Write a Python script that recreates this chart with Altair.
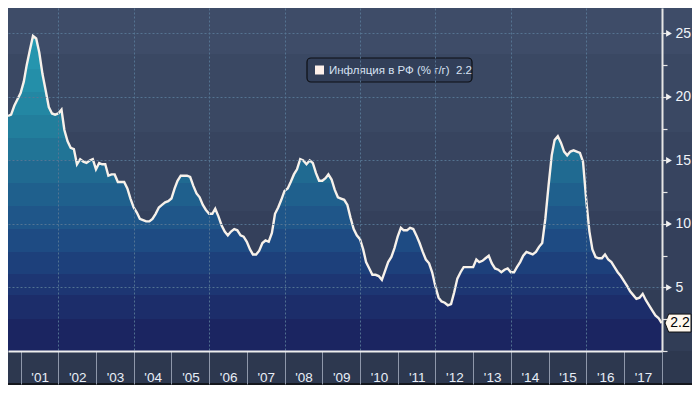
import altair as alt
import pandas as pd

# ---------------- data ----------------
series_name = "Инфляция в РФ (% г/г)"
first_month = "2000-09-01"
inflation = [
    18.5, 18.6, 19.3, 19.8,                                                    # Sep-Dec 2000
    20.3, 21.2, 22.5, 23.7, 24.8, 24.6, 23.5, 21.8, 20.5, 19.2, 18.7, 18.6,    # 2001
    18.7, 19.0, 17.4, 16.5, 16.0, 15.9, 14.7, 15.1, 14.9, 14.8, 15.0, 15.1,    # 2002
    14.3, 14.8, 14.7, 14.7, 13.8, 13.9, 13.9, 13.3, 13.3, 13.3, 12.8, 12.0,    # 2003
    11.3, 10.9, 10.4, 10.3, 10.2, 10.2, 10.4, 10.8, 11.3, 11.5, 11.7, 11.8,    # 2004
    12.0, 12.8, 13.4, 13.8, 13.8, 13.8, 13.7, 13.0, 12.4, 12.1, 11.5, 11.1,    # 2005
    10.8, 10.8, 11.2, 10.6, 9.9, 9.4, 9.1, 9.4, 9.6, 9.5, 9.1, 9.0,            # 2006
    8.6, 8.0, 7.6, 7.6, 7.9, 8.5, 8.7, 8.6, 9.3, 10.8, 11.3, 11.9,             # 2007
    12.6, 12.8, 13.3, 13.9, 14.3, 15.1, 15.0, 14.7, 15.0, 14.8, 14.0, 13.4,    # 2008
    13.4, 13.6, 13.9, 13.5, 12.7, 12.1, 12.0, 11.9, 11.5, 10.5, 9.6, 9.1,      # 2009
    8.8, 8.0, 7.0, 6.5, 6.0, 6.0, 5.9, 5.6, 6.3, 7.0, 7.4, 8.1,                # 2010
    9.0, 9.7, 9.5, 9.5, 9.7, 9.6, 9.1, 8.5, 7.8, 7.2, 6.9, 6.2,                # 2011
    5.1, 4.2, 3.9, 3.8, 3.6, 3.7, 4.6, 5.7, 6.2, 6.6, 6.6, 6.6,                # 2012
    6.6, 7.2, 7.0, 7.1, 7.3, 7.5, 6.9, 6.5, 6.4, 6.2, 6.4, 6.5,                # 2013
    6.2, 6.2, 6.6, 7.0, 7.5, 7.8, 7.7, 7.6, 7.8, 8.2, 8.5, 10.4,               # 2014
    13.0, 15.4, 16.6, 16.9, 16.4, 15.7, 15.4, 15.7, 15.8, 15.7, 15.6, 14.9,    # 2015
    11.9, 9.4, 8.0, 7.4, 7.3, 7.3, 7.6, 7.2, 7.0, 6.6, 6.2, 5.9,               # 2016
    5.5, 5.1, 4.7, 4.4, 4.1, 4.2, 4.5, 4.0, 3.6, 3.2, 2.8, 2.6,                # 2017
    2.2,                                                                       # Jan 2018
]
months = pd.date_range(first_month, periods=len(inflation), freq="MS").strftime("%Y-%m-%dT00:00:00").tolist()
year_ticks = list(range(2001, 2019))
y_ticks = [0, 2.5, 5, 7.5, 10, 12.5, 15, 17.5, 20, 22.5, 25]
major_ticks = [5, 10, 15, 20, 25]

# ---------------- style ----------------
W, H = 654, 343
PAD_R, PAD_B = 30, 34
YMAX = 27
FONT = "Liberation Sans"

area_edges = [0, 2.5, 4.4, 6.1, 7.8, 9.6, 11.4, 13.2, 15.0, 16.8, 18.6, 20.4, 22.2, 24.0, 27]
area_colors = ["#1b2561", "#1c2d6a", "#1d3673", "#1d407b", "#1e4b83", "#1f5689", "#1f608d",
               "#206a91", "#217496", "#227e9c", "#2387a3", "#248fa9", "#2595ae", "#269ab2"]
bg_edges = [0, 4.8, 11.0, 17.2, 23.4, 27]
bg_colors = ["#313d56", "#34405b", "#37445f", "#3a4863", "#3e4c68"]


def stepped(edges, colors, top):
    stops = []
    for i in reversed(range(len(colors))):
        lo, hi = edges[i], min(edges[i + 1], top)
        if lo >= top:
            continue
        stops.append(alt.GradientStop(color=colors[i], offset=(top - hi) / top))
        stops.append(alt.GradientStop(color=colors[i], offset=(top - lo) / top))
    return alt.LinearGradient(gradient="linear", stops=stops, x1=0, x2=0, y1=0, y2=1)


area_grad = stepped(area_edges, area_colors, max(inflation))
bg_grad = stepped(bg_edges, bg_colors, YMAX)

df = pd.DataFrame({"date": months, "value": inflation})

x_enc = alt.X(
    "date:T",
    title=None,
    scale=alt.Scale(domain=[alt.DateTime(year=2000, month=9, date=1),
                            alt.DateTime(year=2018, month=1, date=4)]),
    axis=alt.Axis(
        values=[alt.DateTime(year=y, month=1, date=1) for y in year_ticks],
        format="'%y",
        labelExpr="year(datum.value) >= 2018 ? '' : datum.label",
        tickSize=33, tickColor="#8e97aa", tickWidth=1,
        labelPadding=-14, labelOffset=19, labelFlush=False, labelOverlap=False,
        labelColor="#e8eef7", labelFontSize=13.5, labelFont=FONT,
        domainColor="#eeeeee", domainWidth=2,
        grid=True, gridColor="#587896", gridDash=[2, 2], gridWidth=1,
        gridOpacity={"condition": {"test": "year(datum.value) % 2 == 0", "value": 0.9}, "value": 0},
        zindex=1,
    ),
)
y_enc = alt.Y(
    "value:Q",
    title=None,
    scale=alt.Scale(domain=[0, YMAX], nice=False, zero=True),
    axis=alt.Axis(
        orient="right", values=y_ticks, format=".0f",
        labelExpr="datum.value % 5 == 0 && datum.value > 0 ? datum.label : ''",
        tickSize=5, tickColor="#e6e6e6", tickWidth=1.2,
        domainColor="#e6e6e6", domainWidth=2,
        labelColor="#f0f3f8", labelFontSize=14, labelFont=FONT, labelPadding=8,
        labelFlush=False, labelOverlap=False,
        grid=True, gridColor="#587896", gridDash=[2, 2], gridWidth=1,
        gridOpacity={"condition": {"test": "datum.value % 5 == 0 && datum.value > 0", "value": 0.9}, "value": 0},
        zindex=1,
    ),
)

one = pd.DataFrame({"k": [0]})

bg = alt.Chart(one).mark_rect(color=bg_grad).encode(
    x=alt.value(0), x2=alt.value(W + PAD_R), y=alt.value(0), y2=alt.value(H)
)
bottom_line = alt.Chart(one).mark_rule(color="#14171d", strokeWidth=2).encode(
    x=alt.value(0), x2=alt.value(W + PAD_R), y=alt.value(H + PAD_B - 1)
)

area = alt.Chart(df).mark_area(color=area_grad, opacity=1).encode(x=x_enc, y=y_enc)
line = alt.Chart(df).mark_line(color="#f7f1ea", strokeWidth=2.4).encode(x=x_enc, y=y_enc)

tri = alt.Chart(pd.DataFrame({"value": major_ticks})).mark_point(
    shape="triangle-right", filled=True, color="#f2f2f2", size=45, opacity=1
).encode(x=alt.value(W + 7), y=y_enc)

tag_df = pd.DataFrame({"value": [inflation[-1]], "label": [f"{inflation[-1]}"]})
TAG_PATH = "M-1,0 L-0.72,-0.69 L1,-0.69 L1,0.69 L-0.72,0.69 Z"
tag = alt.Chart(tag_df).mark_point(
    shape=TAG_PATH, filled=True, fill="#fff8ee", stroke="#111111", strokeWidth=1, size=676, opacity=1
).encode(x=alt.value(W + 16), y=y_enc)
tag_text = alt.Chart(tag_df).mark_text(
    align="center", baseline="middle", fontSize=14, font=FONT, color="#000000"
).encode(x=alt.value(W + 18), y=y_enc, text="label:N")

leg_df = pd.DataFrame({"label": [f"{series_name}\u00a0\u00a0{inflation[-1]}"]})
leg_box = alt.Chart(leg_df).mark_rect(
    fill="#323f59", stroke="#0d0f14", strokeWidth=1.2, cornerRadius=4
).encode(x=alt.value(299), x2=alt.value(464), y=alt.value(50), y2=alt.value(74))
leg_sq = alt.Chart(leg_df).mark_rect(fill="#fdf0ea").encode(
    x=alt.value(307), x2=alt.value(316), y=alt.value(57.5), y2=alt.value(66.5)
)
leg_txt = alt.Chart(leg_df).mark_text(
    align="left", baseline="middle", fontSize=11.5, font=FONT, color="#d6e1f2"
).encode(x=alt.value(321), y=alt.value(62.5), text="label:N")

chart = alt.layer(
    bg, area, line, tri, tag, tag_text, leg_box, leg_sq, leg_txt, bottom_line
).properties(
    width=W, height=H,
    background="#2d384f",
    padding={"left": 0, "top": 0, "right": PAD_R, "bottom": PAD_B},
    autosize=alt.AutoSizeParams(type="none"),
).configure_view(stroke=None)

chart.save("out.html", embed_options={"renderer": "svg", "actions": False})
